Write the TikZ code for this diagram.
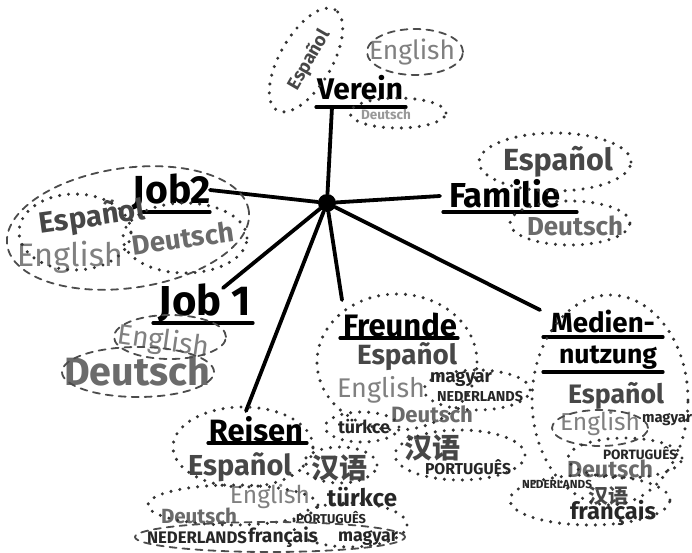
\documentclass[tikz,border=0pt]{standalone}
\usepackage{fontspec}
\setmainfont{Fira Sans}
\newfontfamily\cjk{Noto Sans CJK SC}
\usepackage{graphicx}
\newcommand{\wt}[2]{\resizebox{#1pt}{!}{#2}}
\begin{document}
\begin{tikzpicture}[x=1pt,y=-1pt,
  head/.style={inner sep=0pt, text=black, font=\bfseries},
  es/.style={inner sep=0pt, text=black!72, font=\bfseries},
  en/.style={inner sep=0pt, text=black!50},
  de/.style={inner sep=0pt, text=black!58, font=\bfseries},
  sm/.style={inner sep=0pt, text=black!85, font=\bfseries},
  dots/.style={line width=3.4pt, dash pattern=on 0pt off 9pt, line cap=round, black!80},
  dsh/.style={line width=1.8pt, dash pattern=on 7pt off 6pt, line cap=round, black!70},
  branch/.style={line width=3.8pt, line cap=round},
  uline/.style={line width=3.2pt, line cap=round}]
\fill[white] (0,0) rectangle (692,553);
\useasboundingbox (0,0) rectangle (692,553);

% ---------- hub ----------
\node[circle, fill=black, minimum size=18pt, inner sep=0pt] (hub) at (327,203) {};

% ---------- headings ----------
\node[head] (verein) at (360,88) {\wt{86}{Verein}};
\node[head] (job2) at (172,192) {\wt{78}{Job2}};
\node[head] (familie) at (505,194) {\wt{112}{Familie}};
\node[head] (job1) at (205,303) {\wt{92}{Job 1}};
\node[head] (freunde) at (400,325) {\wt{114}{Freunde}};
\node[head] (medien) at (603,322) {\wt{104}{Medien-}};
\node[head] (nutzung) at (608,358) {\wt{98}{nutzung}};
\node[head] (reisen) at (256,429) {\wt{94}{Reisen}};

% branch end points
\coordinate (vE) at (332,107);
\coordinate (j2E) at (210,190);
\coordinate (fE) at (440,196);
\coordinate (j1E) at (223,288);
\coordinate (frE) at (342,300);
\coordinate (mE) at (540,310);
\coordinate (rE) at (246,411);

\draw[branch] (hub) -- (vE);
\draw[branch] (hub) -- (j2E);
\draw[branch] (hub) -- (fE);
\draw[branch] (hub) -- (j1E);
\draw[branch] (hub) -- (frE);
\draw[branch] (hub) -- (mE);
\draw[branch] (hub) -- (rE);

% underlines
\draw[uline] (316,107) -- (406,107);
\draw[uline] (143,212) -- (210,212);
\draw[uline] (443,212) -- (577,212);
\draw[uline] (153,323) -- (253,323);
\draw[uline] (340,338) -- (458,338);
\draw[uline] (543,337) -- (663,337);
\draw[uline] (543,372) -- (663,372);
\draw[uline] (208,443) -- (307,443);

% ---------- Verein ----------
\node[es, rotate=60] (vEs) at (309,60) {\wt{66}{Español}};
\node[en] (vEn) at (412,52) {\wt{86}{English}};
\node[de, text=black!40] (vDe) at (386,114) {\wt{50}{Deutsch}};
\draw[dots, rotate around={60:(306,60)}] (306,60) ellipse [x radius=58pt, y radius=26pt];
\draw[dsh] (415,52) ellipse [x radius=48pt, y radius=23pt];
\draw[dots] (398,113) ellipse [x radius=48pt, y radius=15pt];

% ---------- Job2 ----------
\node[es, rotate=8] (j2Es) at (92,218) {\wt{106}{Español}};
\node[en] (j2En) at (70,257) {\wt{106}{English}};
\node[de, rotate=8] (j2De) at (183,238) {\wt{102}{Deutsch}};
\draw[dsh, rotate around={8:(128,228)}] (128,228) ellipse [x radius=122pt, y radius=60pt];
\draw[dots] (75,232) ellipse [x radius=56pt, y radius=38pt];
\draw[dots] (185,238) ellipse [x radius=62pt, y radius=35pt];

% ---------- Familie ----------
\node[es] (fEs) at (558,162) {\wt{110}{Español}};
\node[de] (fDe) at (575,226) {\wt{96}{Deutsch}};
\draw[dots] (555,162) ellipse [x radius=76pt, y radius=29pt];
\draw[dots] (570,223) ellipse [x radius=60pt, y radius=22pt];

% ---------- Job 1 ----------
\node[en, rotate=-8] (j1En) at (163,342) {\wt{92}{English}};
\node[de] (j1De) at (137,371) {\wt{146}{Deutsch}};
\draw[dsh] (170,337) ellipse [x radius=56pt, y radius=22pt];
\draw[dsh] (138,372) ellipse [x radius=76pt, y radius=25pt];

% ---------- Freunde ----------
\node[es] (frEs) at (407,357) {\wt{100}{Español}};
\node[en] (frEn) at (381,390) {\wt{88}{English}};
\node[sm] (frMa) at (461,379) {\wt{62}{magyar}};
\node[sm] (frNe) at (480,397) {\wt{86}{NEDERLANDS}};
\node[de] (frDe) at (432,414) {\wt{82}{Deutsch}};
\node[sm] (frTu) at (364,427) {\wt{52}{türkce}};
\node[es] (frZh) at (432,448) {\wt{56}{\cjk 汉语}};
\node[sm] (frPo) at (468,467) {\wt{86}{PORTUGUÊS}};
\draw[dots] (397,362) ellipse [x radius=80pt, y radius=68pt];
\draw[dots] (477,390) ellipse [x radius=53pt, y radius=20pt];
\draw[dots] (362,427) ellipse [x radius=37pt, y radius=15pt];
\draw[dots] (460,455) ellipse [x radius=65pt, y radius=25pt];

% ---------- Mediennutzung ----------
\node[es] (mEs) at (616,396) {\wt{96}{Español}};
\node[en] (mEn) at (600,424) {\wt{80}{English}};
\node[sm] (mMa) at (667,420) {\wt{50}{magyar}};
\node[sm] (mPo) at (640,453) {\wt{74}{PORTUGUÊS}};
\node[de] (mDe) at (610,469) {\wt{86}{Deutsch}};
\node[sm] (mNe) at (557,484) {\wt{70}{NEDERLANDS}};
\node[es] (mZh) at (608,496) {\wt{40}{\cjk 汉语}};
\node[sm] (mFr) at (613,513) {\wt{86}{français}};
\draw[dots] (610,400) ellipse [x radius=78pt, y radius=105pt];
\draw[dsh] (600,428) ellipse [x radius=48pt, y radius=18pt];
\draw[dots] (625,458) ellipse [x radius=57pt, y radius=20pt];
\draw[dots] (590,500) ellipse [x radius=80pt, y radius=25pt];

% ---------- Reisen ----------
\node[es] (rEs) at (240,467) {\wt{104}{Español}};
\node[es] (rZh) at (339,468) {\wt{56}{\cjk 汉语}};
\node[en] (rEn) at (270,497) {\wt{80}{English}};
\node[sm] (rTu) at (362,497) {\wt{70}{türkce}};
\node[de] (rDe) at (199,516) {\wt{76}{Deutsch}};
\node[sm] (rPo) at (331,518) {\wt{70}{PORTUGUÊS}};
\node[sm] (rNe) at (197,538) {\wt{100}{NEDERLANDS}};
\node[sm] (rFr) at (283,537) {\wt{70}{français}};
\node[sm] (rMa) at (368,538) {\wt{60}{magyar}};
\draw[dots] (243,447) ellipse [x radius=70pt, y radius=40pt];
\draw[dots] (340,465) ellipse [x radius=37pt, y radius=18pt];
\draw[dots] (233,505) ellipse [x radius=85pt, y radius=20pt];
\draw[dots] (350,525) ellipse [x radius=57pt, y radius=22pt];
\draw[dsh] (270,537) ellipse [x radius=135pt, y radius=15pt];
\end{tikzpicture}
\end{document}
